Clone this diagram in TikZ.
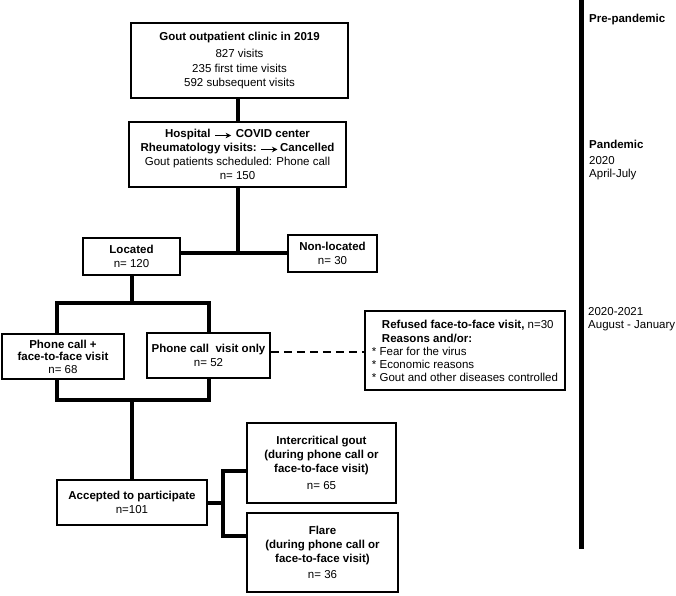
\documentclass[tikz,border=0pt]{standalone}
\usepackage{fontspec}
\setmainfont{Liberation Sans}
\usetikzlibrary{positioning,calc,arrows.meta}
\newcommand{\longarr}{\tikz[baseline=-0.35ex]\draw[line width=1.3pt,-{Stealth[length=5.5pt,width=5.5pt]}] (0pt,0pt) -- (16pt,0pt);}

\begin{document}
\begin{tikzpicture}[x=1pt,y=-1pt,
box/.style={
  draw,
  line width=1.8pt,
  align=center,
  inner sep=2pt,
  font=\fontsize{11.5}{14}\selectfont},
link/.style={line width=4pt},
tline/.style={
  anchor=west,
  align=left,
  inner sep=0pt,
  font=\fontsize{11.5}{13}\selectfont}
]
\useasboundingbox (0,0) rectangle (676,595);
\node[box, minimum width=217pt, minimum height=75pt] (clinic) at (239.5,60.5)
  {\textbf{Gout outpatient clinic in 2019}\\[3pt] 827 visits\\[1pt] 235 first time visits\\ 592 subsequent visits};
\node[box, minimum width=217pt, minimum height=65pt] (hosp) at (237.5,154.5)
  {\textbf{Hospital\hspace{4pt}\longarr\hspace{4pt}COVID center}\\
   \textbf{Rheumatology visits:\hspace{4pt}\longarr\hspace{2pt}Cancelled}\\
   Gout patients scheduled: Phone call\\ n= 150};
\node[box, minimum width=97pt, minimum height=37pt] (located) at (131.5,256.5)
  {\textbf{Located}\\ n= 120};
\node[box, minimum width=89pt, minimum height=37pt] (nonloc) at (332.5,253.5)
  {\textbf{Non-located}\\ n= 30};
\node[box, minimum width=122pt, minimum height=45pt, font=\fontsize{11.5}{12.5}\selectfont] (phoneface) at (63,356.5)
  {\textbf{Phone call +}\\ \textbf{face-to-face visit}\\ n= 68};
\node[box, minimum width=123pt, minimum height=45pt] (phoneonly) at (208.5,355.5)
  {\textbf{Phone call\ \ visit only}\\ n= 52};
\node[box, minimum width=200pt, minimum height=79pt, align=left, font=\fontsize{11.5}{13}\selectfont] (refused) at (465,350.5)
  {\hspace*{10pt}\textbf{Refused face-to-face visit,} n=30\\[1pt]
   \hspace*{10pt}\textbf{Reasons and/or:}\\
   * Fear for the virus\\
   * Economic reasons\\
   * Gout and other diseases controlled};
\node[box, minimum width=150pt, minimum height=45pt] (accepted) at (132,502.5)
  {\textbf{Accepted to participate}\\ n=101};
\node[box, minimum width=149pt, minimum height=80pt] (inter) at (321.5,463)
  {\textbf{Intercritical gout}\\ \textbf{(during phone call or}\\ \textbf{face-to-face visit)}\\[3pt] n= 65};
\node[box, minimum width=151pt, minimum height=79pt] (flare) at (322.5,552.5)
  {\textbf{Flare}\\ \textbf{(during phone call or}\\ \textbf{face-to-face visit)}\\[2pt] n= 36};

\draw[link] (clinic.south -| hosp.north) -- (hosp.north);
\coordinate (j1) at (237.5,253);
\draw[link] (hosp.south) -- (j1);
\draw[link] (located.east |- j1) -- (nonloc.west |- j1);
\coordinate (j2) at (131.5,303);
\draw[link] (located.south) -- (j2);
\draw[link] ([xshift=-6pt]phoneface.north) |- (j2) -| (phoneonly.north);
\coordinate (j3) at (132,400);
\draw[link] ([xshift=-6pt]phoneface.south) |- (j3) -| (phoneonly.south);
\draw[link] (j3) -- (accepted.north);
\draw[link] (accepted.east) -- ++(15,0) coordinate (j4);
\draw[link] ([yshift=-8pt]inter.west) -| (j4) |- ([yshift=16.5pt]flare.west);
\draw[line width=2.5pt, dash pattern=on 8pt off 5pt]
  ([yshift=3.5pt]phoneonly.east) coordinate (d1) -- (d1 -| refused.west);

\coordinate (ttop) at (581,0);
\coordinate (tbot) at (581,549);
\draw[line width=5pt] (ttop) -- (tbot);
\node[tline] (pre) at (589,20) {\textbf{Pre-pandemic}};
\node[tline] (pan) at (589,160.5) {\textbf{Pandemic}\\[3pt] 2020\\ April-July};
\node[tline] (aug) at (588,319) {2020-2021\\ August - January};
\end{tikzpicture}
\end{document}
